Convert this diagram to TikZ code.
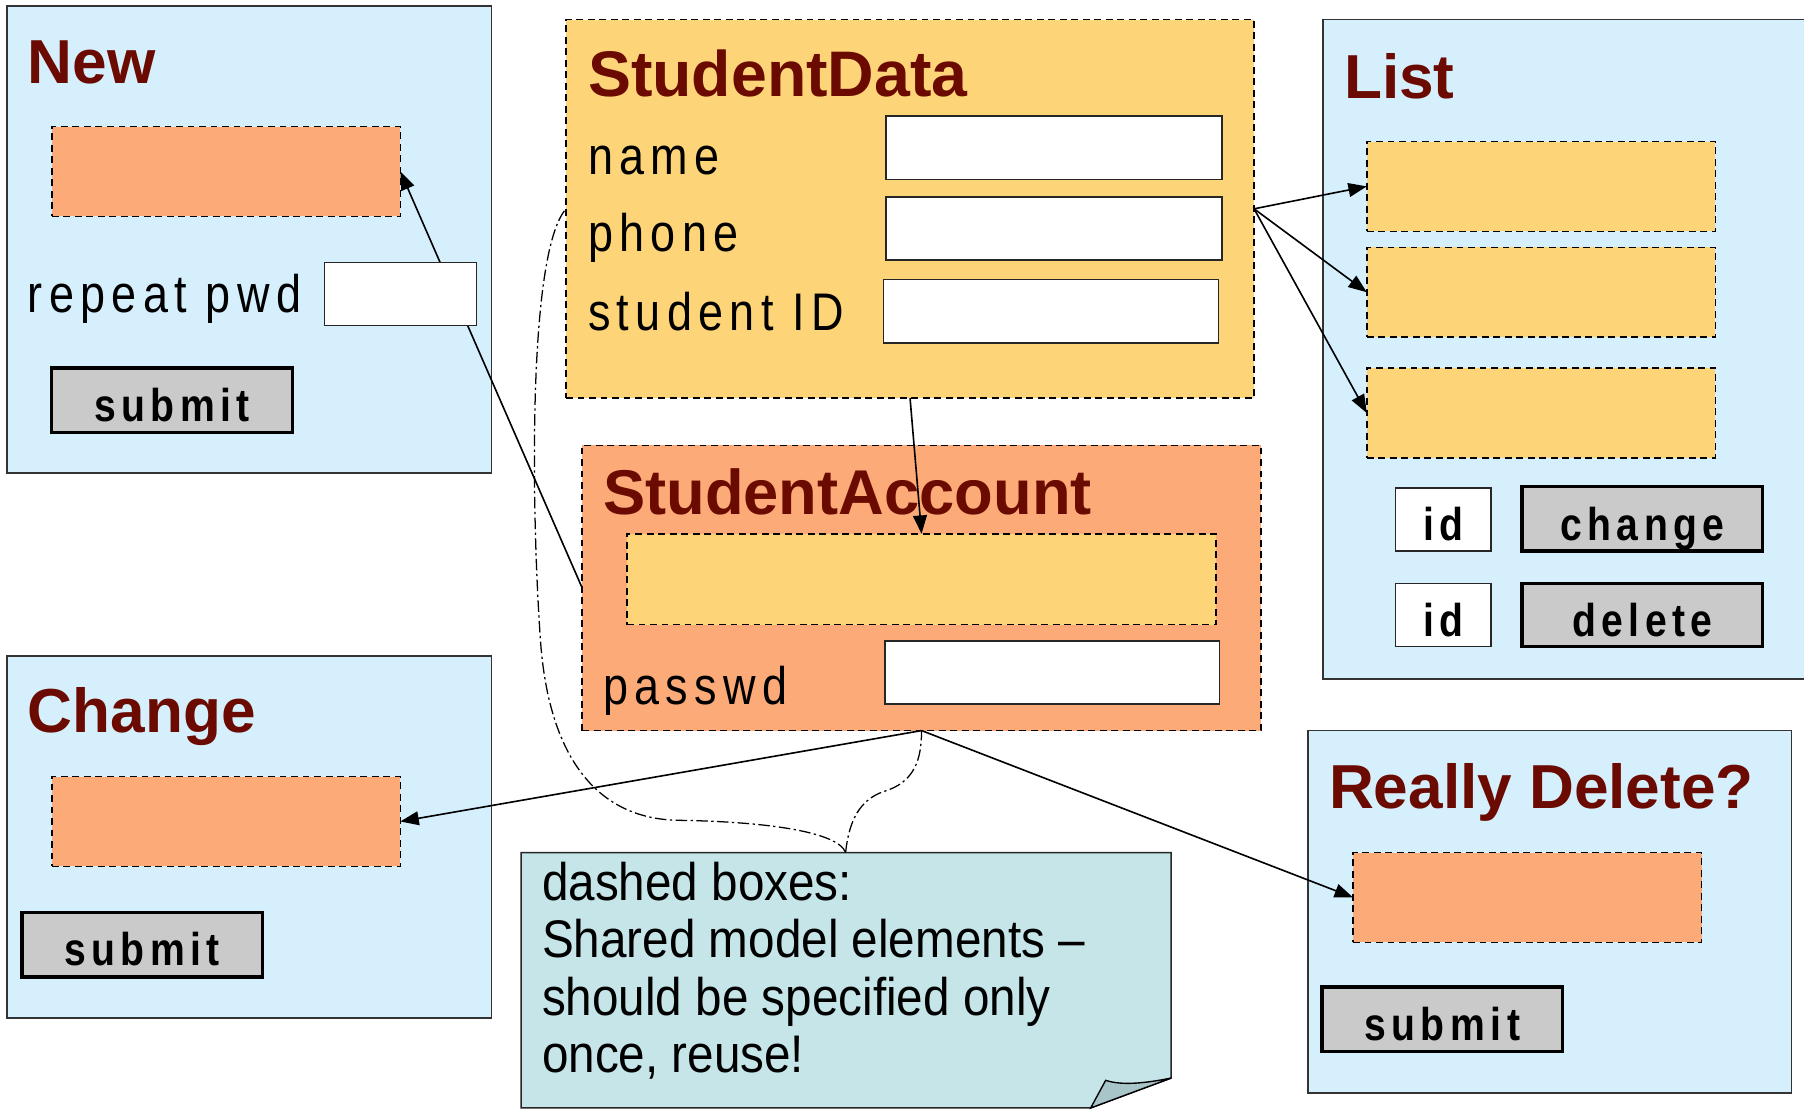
\documentclass[tikz,border=0pt]{standalone}
\usepackage{fontspec}
\setmainfont{Liberation Sans}
\usetikzlibrary{arrows.meta,fit}
\newfontfamily\lblfamily[FakeStretch=0.85,LetterSpace=12]{Liberation Sans}
\newfontfamily\btnfamily[FakeStretch=0.85,LetterSpace=12]{Liberation Sans Bold}
\newfontfamily\ttlfamily{Liberation Sans Bold}
\newfontfamily\notefamily[FakeStretch=0.9,Ligatures=TeX]{Liberation Sans}

\definecolor{winblue}{HTML}{D5EFFD}
\definecolor{datayellow}{HTML}{FED479}
\definecolor{acctorange}{HTML}{FDAA79}
\definecolor{titlered}{HTML}{6B0A00}
\definecolor{btngrey}{HTML}{CACACA}
\definecolor{notecyan}{HTML}{C5E5E8}
\definecolor{notefold}{HTML}{A8C5C9}

\tikzset{
  box/.style={inner sep=0pt, outer sep=0pt},
  window/.style={box, draw=black!80, fill=winblue, line width=1.3pt},
  shared/.style={box, draw=black, dash pattern=on 6pt off 4pt, line width=1.3pt},
  datafill/.style={shared, fill=datayellow},
  acctfill/.style={shared, fill=acctorange},
  field/.style={box, draw=black!85, fill=white, line width=1.4pt},
  button/.style={box, draw=black, fill=btngrey, line width=3pt},
  title/.style={anchor=base west, inner sep=0pt, text=titlered,
    font=\ttlfamily\fontsize{54}{60}\selectfont},
  lbl/.style={anchor=base west, inner sep=0pt,
    font=\lblfamily\fontsize{46}{50}\selectfont},
  btntext/.style={anchor=base, inner sep=0pt,
    font=\btnfamily\fontsize{40}{44}\selectfont},
  link/.style={line width=1.4pt, -{Triangle[length=16pt,width=12pt]}},
  callout/.style={line width=1.1pt, dash pattern=on 10pt off 3pt on 2pt off 3pt},
}

\begin{document}
\begin{tikzpicture}[x=1pt,y=-1pt]
\useasboundingbox (0,0) rectangle (1568,964);

% ---- windows ----
\node[window, fit={(6,5) (427,411)}] (newwin) {};
\node[window, fit={(1150,17) (1575,590)}] (listwin) {};
\node[window, fit={(6,570) (427,885)}] (changewin) {};
\node[window, fit={(1137,635) (1557,950)}] (delwin) {};

% ---- shared model: StudentData ----
\node[datafill, fit={(492,17) (1090,346)}] (sdata) {};
\node[title, font=\ttlfamily\fontsize{56}{60}\selectfont] (sdatatitle) at (511,84) {StudentData};
\node[lbl] (namelbl) at (511,152) {name};
\node[lbl] (phonelbl) at (511,219) {phone};
\node[lbl] (sidlbl) at (511,287) {student ID};
\node[field, fit={(770,101) (1062,156)}] (namefield) {};
\node[field, fit={(770,171) (1062,226)}] (phonefield) {};
\node[field, fit={(768,243) (1059,298)}] (sidfield) {};

% ---- shared model: StudentAccount ----
\node[acctfill, fit={(506,387) (1096,635)}] (acct) {};
\node[title, font=\ttlfamily\fontsize{55}{60}\selectfont] (accttitle) at (524,447) {StudentAccount};
\node[datafill, fit={(545,464) (1057,543)}] (acctdata) {};
\node[lbl] (pwlbl) at (524,612) {passwd};
\node[field, fit={(769,557) (1060,612)}] (pwfield) {};

% ---- New ----
\node[title] (newtitle) at (24,73) {New};
\node[acctfill, fit={(45,110) (348,188)}] (newacct) {};
\node[lbl] (repeatlbl) at (24,272) {repeat pwd};
\node[button, fit={(45,320) (254,376)}] (newsubmit) {};
\node[btntext] (newsubmittxt) at ([yshift=10pt]newsubmit.south) {submit};

% ---- List ----
\node[title] (listtitle) at (1168,86) {List};
\node[datafill, fit={(1188,123) (1491,201)}] (row1) {};
\node[datafill, fit={(1188,215) (1491,293)}] (row2) {};
\node[datafill, fit={(1188,320) (1491,398)}] (row3) {};
\node[field, fit={(1213,424) (1296,479)}] (id1) {};
\node[field, fit={(1213,507) (1296,562)}] (id2) {};
\node[btntext] (id1txt) at ([yshift=9pt]id1.south) {id};
\node[btntext] (id2txt) at ([yshift=9pt]id2.south) {id};
\node[button, fit={(1323,423) (1532,479)}] (changebtn) {};
\node[button, fit={(1323,507) (1532,562)}] (deletebtn) {};
\node[btntext] (changetxt) at ([yshift=9pt]changebtn.south) {change};
\node[btntext] (deletetxt) at ([yshift=9pt]deletebtn.south) {delete};

% ---- Change ----
\node[title] (changetitle) at (24,637) {Change};
\node[acctfill, fit={(45,675) (348,753)}] (changeacct) {};
\node[button, fit={(19,793) (228,849)}] (changesubmit) {};
\node[btntext] (changesubmittxt) at ([yshift=10pt]changesubmit.south) {submit};

% ---- Really Delete? ----
\node[title] (deltitle) at (1155,703) {Really Delete?};
\node[acctfill, fit={(1176,741) (1479,819)}] (delacct) {};
\node[button, fit={(1149,858) (1358,914)}] (delsubmit) {};
\node[btntext] (delsubmittxt) at ([yshift=10pt]delsubmit.south) {submit};

% ---- note with folded corner ----
\node[box, fit={(453,741) (1018,963)}] (note) {};
\fill[notecyan] (note.north west) -- (note.north east) -- ([yshift=26pt]note.south east)
  -- ([xshift=-70pt]note.south east) -- (note.south west) -- cycle;
\draw[line width=1.3pt, black!85] (note.north west) -- (note.north east) -- ([yshift=26pt]note.south east)
  -- ([xshift=-70pt]note.south east) -- (note.south west) -- cycle;
\draw[line width=1.2pt, fill=notefold] ([xshift=-70pt]note.south east) -- ([xshift=-57pt,yshift=24pt]note.south east)
  .. controls ([xshift=-42pt,yshift=19pt]note.south east) and ([xshift=-20pt,yshift=22pt]note.south east)
  .. ([yshift=26pt]note.south east) -- cycle;
\node[anchor=north west, inner sep=0pt, align=left,
  font=\notefamily\fontsize{46}{50}\selectfont] (notetext) at (471,749)
  {dashed boxes:\\Shared model elements –\\should be specified only\\once, reuse!};
\coordinate (notetip) at (735,741);

% ---- connectors ----
\draw[link] (sdata.east) -- (row1.west);
\draw[link] (sdata.east) -- (row2.west);
\draw[link] (sdata.east) -- (row3.west);
\draw[link] (sdata.south) -- (acctdata.north);
\draw[link] (acct.west) -- (newacct.east);
\draw[link] (acct.south) -- (changeacct.east);
\draw[link] (acct.south) -- (delacct.west);

% the repeat-password field sits above the connector
\node[field, fit={(282,228) (414,283)}] (repeatfield) {};

% ---- callout brace from the note ----
\draw[callout] (notetip) .. controls (728,722) and (660,714) .. (590,713)
  .. controls (520,712) and (478,660) .. (470,560)
  .. controls (462,450) and (458,220) .. (sdata.west);
\draw[callout] (notetip) .. controls (738,712) and (748,695) .. (768,688)
  .. controls (795,680) and (801,660) .. (acct.south);
\end{tikzpicture}
\end{document}
